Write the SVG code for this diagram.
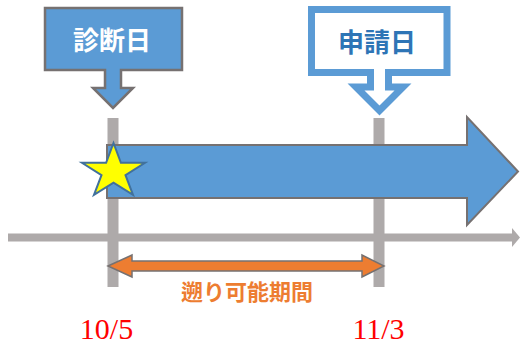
<svg xmlns="http://www.w3.org/2000/svg" width="520" height="345" viewBox="0 0 520 345">
<style>
.grid{fill:#AEAAAA}
.cjk{font-family:"Noto Sans CJK JP","Noto Sans CJK SC",sans-serif;font-weight:bold;text-anchor:middle}
.date{font-family:"Liberation Serif",serif;font-size:30px;fill:#FF0000;text-anchor:middle}
</style>
<rect width="520" height="345" fill="#FFFFFF"/>
<g id="connectors">
  <rect class="grid" x="8" y="233.5" width="506" height="8"/>
  <polygon class="grid" points="512,228 520,237.5 512,247"/>
  <rect class="grid" x="107.5" y="118" width="11" height="169"/>
  <rect class="grid" x="373.5" y="118" width="11" height="169"/>
  <path d="M107,145 H467 V117 L518,171.5 L467,225 V198 H107 Z" fill="#5B9BD5" stroke="#767171" stroke-width="2"/>
  <path d="M108,266 L132,255 V261 H362 V255 L384,266 L362,277 V271 H132 V277 Z" fill="#ED7D31" stroke="#767171" stroke-width="1.5" stroke-linejoin="miter"/>
</g>
<g id="star">
  <polygon points="113.5,143 120.9,162.8 145,162.8 125.5,175.1 133,194.9 113.5,182.7 94,194.9 101.5,175.1 82,162.8 106.1,162.8" fill="#FFFF00" stroke="#41719C" stroke-width="2" stroke-linejoin="miter"/>
</g>
<g id="diagnosis">
  <path d="M45,8 H182 V70 H121 V88 H133 L113,108 L93,88 H105 V70 H45 Z" fill="#5B9BD5" stroke="#767171" stroke-width="2.5"/>
  <text class="cjk" x="112" y="50" font-size="26" fill="#FFFFFF">診断日</text>
</g>
<g id="application">
  <path d="M311.5,9.5 H447 V72.5 H388.5 V87 H403 L379.5,110.5 L356,87 H370.5 V72.5 H311.5 Z" fill="#FFFFFF" stroke="#5B9BD5" stroke-width="7" stroke-linejoin="miter"/>
  <text class="cjk" x="377" y="52" font-size="26" fill="#2E75B6">申請日</text>
</g>
<g id="period">
  <text class="cjk" x="247" y="300" font-size="22" fill="#ED7D31">遡り可能期間</text>
</g>
<g id="date1"><text class="date" x="106.5" y="339">10/5</text></g>
<g id="date2"><text class="date" x="378.5" y="339">11/3</text></g>
</svg>
